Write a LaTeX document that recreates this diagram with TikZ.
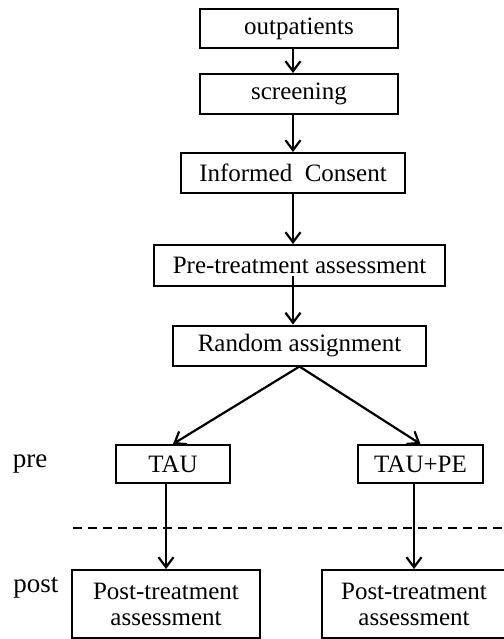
\documentclass[tikz,border=0pt]{standalone}
\usepackage{fontspec}
\setmainfont{Liberation Serif}
\usetikzlibrary{arrows.meta,calc}

\begin{document}
\begin{tikzpicture}[x=0.5pt, y=-0.5pt,
  box/.style={draw, line width=1pt, inner sep=0pt, minimum height=20pt, align=center, font=\fontsize{12.5}{13}\selectfont},
  arr/.style={-{Straight Barb[length=5pt, width=7.5pt, line width=1.1pt]}, line width=1.1pt},
  sep/.style={dashed, dash pattern=on 4.5pt off 3pt, line width=1.1pt},
  phase/.style={font=\fontsize{13.5}{14}\selectfont}]
\useasboundingbox (0,0) rectangle (504,639);
\node[box, minimum width=99pt, minimum height=19.5pt] (outp) at (299,28.5) {outpatients};
\node[box, minimum width=99pt] (scr) at (299,94) {screening};
\node[box, minimum width=112pt] (ic) at (293,173) {Informed\ \ Consent};
\node[box, minimum width=145.5pt, minimum height=20.5pt] (pre) at (299.5,265.5) {Pre-treatment assessment};
\node[box, minimum width=126.5pt] (rand) at (299.5,345.5) {Random assignment};
\node[box, minimum width=57pt, minimum height=19pt] (tau) at (173,464) {TAU};
\node[box, minimum width=62.5pt, minimum height=19pt] (taupe) at (420.5,464) {TAU+PE};
\node[box, minimum width=94pt, minimum height=34pt] (post1) at (166,604) {Post-treatment\\assessment};
\node[box, minimum width=92pt, minimum height=34pt] (post2) at (414,604) {Post-treatment\\assessment};
\node[phase] (lpre) at (30,464) {pre};
\node[phase] (lpost) at (36,588) {post};
\foreach \a/\b in {outp/scr,scr/ic,ic/pre}{\draw[arr] (\a.south -| ic) -- (\b.north -| ic);}
\coordinate (preout) at ($(pre.south -| ic)+(0,5.5pt)$);
\draw[arr] (preout) -- (rand.north -| ic);
\foreach \b in {tau,taupe}{\draw[arr] (rand.south) -- (\b.north);}
\draw[arr] (tau.south -| post1) -- (post1.north);
\draw[arr] (taupe.south -| post2) -- (post2.north);
\coordinate (sepL) at (73,528);
\coordinate (sepR) at (506,528);
\draw[sep] (sepL) -- (sepR);
\end{tikzpicture}
\end{document}
